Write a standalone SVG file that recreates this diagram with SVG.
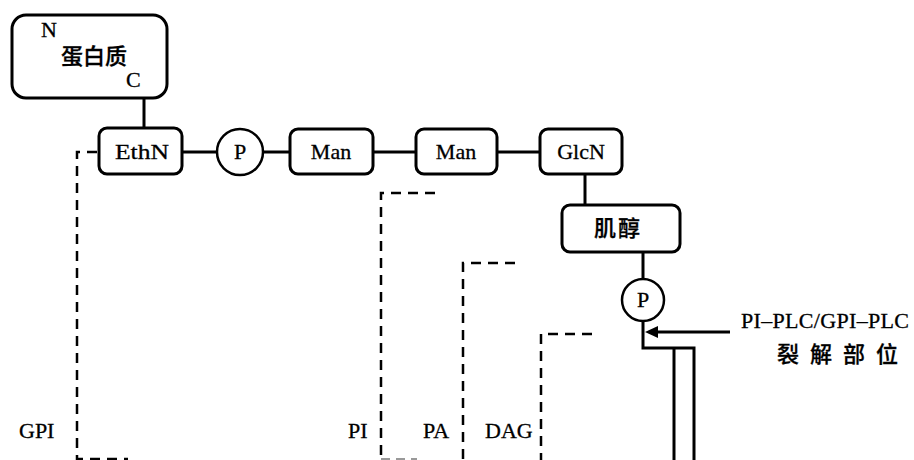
<svg xmlns="http://www.w3.org/2000/svg" width="914" height="460" viewBox="0 0 914 460">
<style>
.box{fill:#fff;stroke:#000;stroke-width:3}
.circ{fill:#fff;stroke:#000;stroke-width:2.5}
.ln{fill:none;stroke:#000;stroke-width:3}
.dash{fill:none;stroke:#000;stroke-width:2.5;stroke-dasharray:10 7}
.t{font-family:"Liberation Serif","Noto Sans CJK SC",serif;font-size:22px;fill:#000;stroke:#000;stroke-width:0.3}
.c{text-anchor:middle}
.cjk{font-family:"Noto Sans CJK SC","Liberation Sans",sans-serif;font-weight:500}
</style>
<rect width="914" height="460" fill="#fff"/>
<g id="connectors">
<path class="ln" d="M144,98 V128"/>
<path class="ln" d="M182,152 H217"/>
<path class="ln" d="M263,152 H290"/>
<path class="ln" d="M373,152 H416"/>
<path class="ln" d="M497,152 H540"/>
<path class="ln" d="M585,174 V205"/>
<path class="ln" d="M643,252 V279"/>
<path class="ln" d="M643,321 V348 H694 V460"/>
<path class="ln" d="M674,348 V460"/>
<path class="ln" d="M730,332 H656" stroke-width="2.5"/>
<polygon points="645,332 658,326 658,338" fill="#000"/>
<path class="dash" d="M97,152 H77 V459 H128"/>
<path class="dash" d="M435,193 H381 V459"/>
<path d="M381,459 H417" fill="none" stroke="#999" stroke-width="2" stroke-dasharray="9 6"/>
<path class="dash" d="M515,263 H463 V460"/>
<path class="dash" d="M592,334 H541 V460"/>
</g>
<g id="protein">
<rect class="box" x="12" y="15" width="155" height="83" rx="14"/>
<text class="t" x="41" y="37" font-size="19">N</text>
<text class="t cjk" x="61" y="64" font-size="20">蛋白质</text>
<text class="t" x="126" y="87" font-size="20">C</text>
</g>
<g id="ethn">
<rect class="box" x="99" y="128" width="83" height="46" rx="8"/>
<text class="t c" x="142" y="159" textLength="54" lengthAdjust="spacingAndGlyphs">EthN</text>
</g>
<g id="p1">
<circle class="circ" cx="240" cy="152" r="23"/>
<text class="t c" x="240" y="159">P</text>
</g>
<g id="man1">
<rect class="box" x="290" y="129" width="83" height="45" rx="8"/>
<text class="t c" x="331" y="159">Man</text>
</g>
<g id="man2">
<rect class="box" x="416" y="129" width="81" height="45" rx="8"/>
<text class="t c" x="456" y="159">Man</text>
</g>
<g id="glcn">
<rect class="box" x="540" y="129" width="82" height="45" rx="8"/>
<text class="t c" x="581" y="159">GlcN</text>
</g>
<g id="inositol">
<rect class="box" x="562" y="205" width="118" height="47" rx="8"/>
<text class="t cjk c" x="618" y="236" font-size="20" letter-spacing="2">肌醇</text>
</g>
<g id="p2">
<circle class="circ" cx="643" cy="300" r="21"/>
<text class="t c" x="643" y="307">P</text>
</g>
<g id="labels">
<text class="t" x="741" y="328" textLength="168">PI–PLC/GPI–PLC</text>
<text class="t cjk" x="777" y="362" font-size="18" letter-spacing="11">裂解部位</text>
<text class="t" x="19" y="438">GPI</text>
<text class="t" x="348" y="438">PI</text>
<text class="t" x="423" y="438">PA</text>
<text class="t" x="485" y="438">DAG</text>
</g>
</svg>
